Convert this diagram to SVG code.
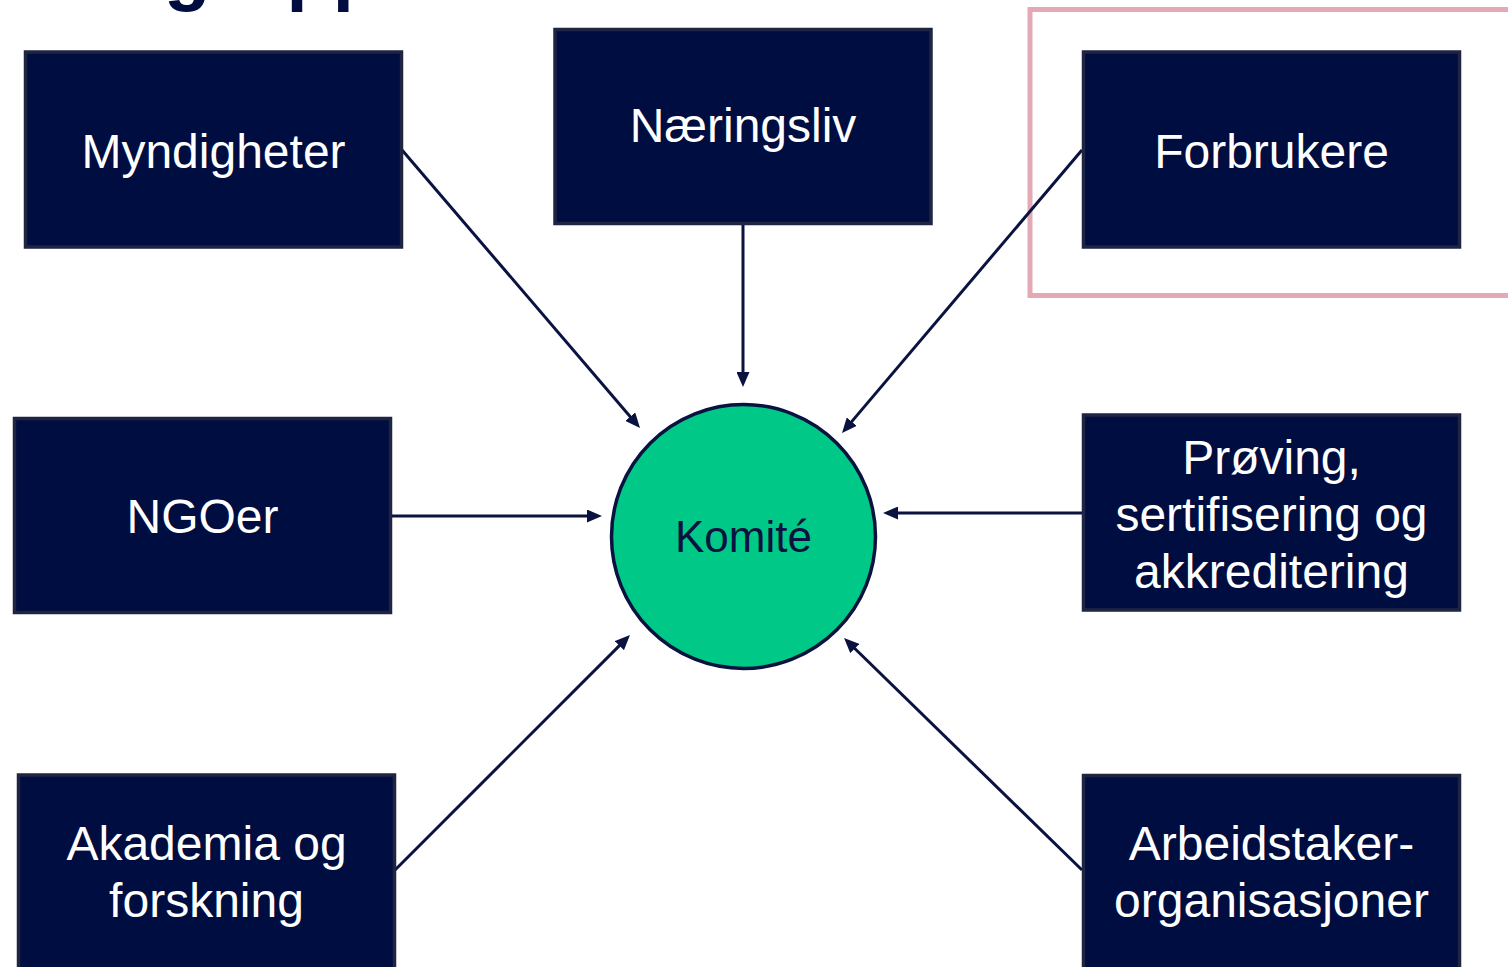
<svg xmlns="http://www.w3.org/2000/svg" width="1508" height="967" viewBox="0 0 1508 967">
<style>
.box{fill:#000D40;stroke:#1F2541;stroke-width:3.5}
.lbl{font-family:"Liberation Sans",Arial,sans-serif;font-size:48px;fill:#FFFFFF;text-anchor:middle}
.con{stroke:#0A1240;stroke-width:3;fill:none;marker-end:url(#ah)}
</style>
<defs>
<marker id="ah" markerUnits="userSpaceOnUse" markerWidth="15" markerHeight="13" viewBox="0 0 15 13" refX="5" refY="6.5" orient="auto">
<path d="M0,0 L15,6.5 L0,13 z" fill="#0A1240"/>
</marker>
</defs>
<rect width="1508" height="967" fill="#FFFFFF"/>
<text x="164" y="-4" font-family="Liberation Sans,Arial,sans-serif" font-weight="bold" font-size="76" fill="#000D40">grupper</text>
<rect id="highlight" x="1030" y="9.5" width="490" height="286" fill="none" stroke="#E3A9B5" stroke-width="5"/>
<g id="connectors">
<line class="con" x1="402" y1="150" x2="633.5" y2="420.4"/>
<line class="con" x1="743" y1="224" x2="743" y2="377"/>
<line class="con" x1="1082" y1="150" x2="848.5" y2="425.4"/>
<line class="con" x1="392" y1="516" x2="592" y2="516"/>
<line class="con" x1="1082" y1="513" x2="893" y2="513"/>
<line class="con" x1="395" y1="870" x2="622.9" y2="642.1"/>
<line class="con" x1="1082" y1="870" x2="851.2" y2="645"/>
</g>
<g id="myndigheter">
<rect class="box" x="25.5" y="52" width="376" height="195"/>
<text class="lbl" x="213.5" y="168">Myndigheter</text>
</g>
<g id="naeringsliv">
<rect class="box" x="555" y="29.5" width="376" height="194"/>
<text class="lbl" x="743" y="142">Næringsliv</text>
</g>
<g id="forbrukere">
<rect class="box" x="1083.5" y="52" width="376" height="195"/>
<text class="lbl" x="1271.5" y="168">Forbrukere</text>
</g>
<g id="ngoer">
<rect class="box" x="14.5" y="418.5" width="376" height="194"/>
<text class="lbl" x="202.5" y="533">NGOer</text>
</g>
<g id="proving">
<rect class="box" x="1083.5" y="415" width="376" height="195"/>
<text class="lbl" x="1271.5" y="474">Prøving,</text>
<text class="lbl" x="1271.5" y="531">sertifisering og</text>
<text class="lbl" x="1271.5" y="588">akkreditering</text>
</g>
<g id="akademia">
<rect class="box" x="18.5" y="775" width="376" height="200"/>
<text class="lbl" x="206.5" y="860">Akademia og</text>
<text class="lbl" x="206.5" y="917">forskning</text>
</g>
<g id="arbeidstaker">
<rect class="box" x="1083.5" y="775.5" width="376" height="200"/>
<text class="lbl" x="1271.5" y="860">Arbeidstaker-</text>
<text class="lbl" x="1271.5" y="917">organisasjoner</text>
</g>
<g id="komite">
<circle cx="743.5" cy="536.5" r="132" fill="#00C887" stroke="#0A1240" stroke-width="3.5"/>
<text x="743.5" y="552" font-family="Liberation Sans,Arial,sans-serif" font-size="44" fill="#0A1240" text-anchor="middle">Komité</text>
</g>
</svg>
